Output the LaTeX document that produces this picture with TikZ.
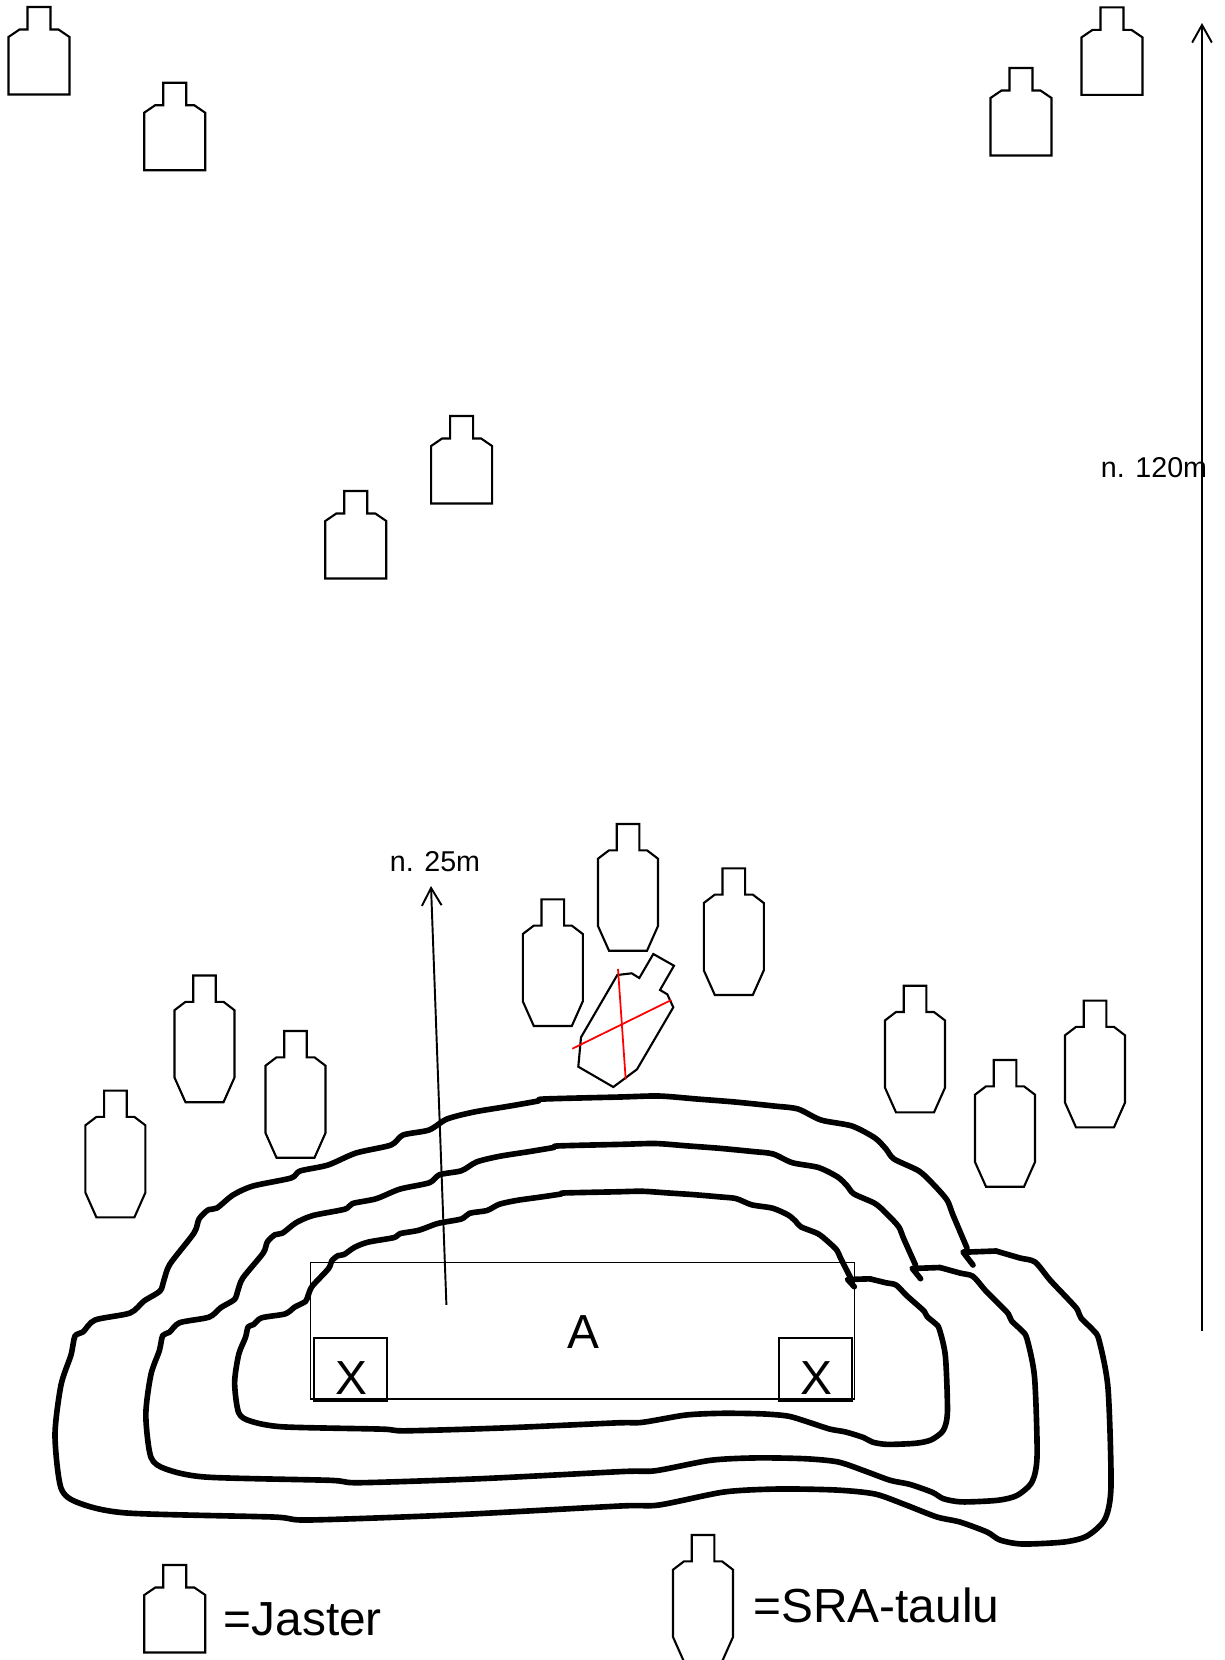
\documentclass[tikz,border=0pt]{standalone}
\usepackage{fontspec}
\setmainfont{Liberation Sans}
\usetikzlibrary{arrows.meta}
\definecolor{crossred}{RGB}{255, 0, 0}
\tikzset{
  target/.style={draw=black, line width=0.6pt, line join=miter},
  contour/.style={draw=black, line width=1.6pt, line join=round, line cap=round},
  rangearrow/.style={draw=black, line width=0.55pt, -{Straight Barb[length=5pt, width=5.6pt]}},
  bigtext/.style={font=\fontsize{13.6}{16}\selectfont, inner sep=0pt, anchor=base},
  smalltext/.style={font=\fontsize{8.15}{10}\selectfont, inner sep=0pt},
}
\newcommand{\jaster}[2]{
  \draw[target, shift={(#1,#2)}] (-11.5,0) -- (11.5,0) -- (11.5,22.5) -- (19.5,22.5) -- (30.5,30)
    -- (30.5,87.5) -- (-30.5,87.5) -- (-30.5,30) -- (-19.5,22.5) -- (-11.5,22.5) -- cycle;
}
\newcommand{\sra}[2]{
  \draw[target, shift={(#1,#2)}] (-11.3,0) -- (11.3,0) -- (11.3,26.3) -- (19,26.3) -- (30,34.7)
    -- (30,102) -- (19,126.7) -- (-19,126.7) -- (-30,102) -- (-30,34.7) -- (-19,26.3) -- (-11.3,26.3) -- cycle;
}
% one contour, the two inner ones are scaled copies
\newcommand{\rampline}{
  \draw[contour] plot[smooth, tension=0.45] coordinates {
    (967,1248) (953,1215) (947,1200) (933,1184) (919,1171) (894,1159) (886,1149) (875,1138)
    (852,1126) (821,1120) (798,1109) (774,1106) (735,1102) (697,1099) (659,1096) (620,1097)
    (544,1099) (538,1101) (510,1106) (474,1112) (447,1119) (429,1130) (403,1135) (391,1145)
    (356,1153) (328,1165) (300,1171) (291,1178) (253,1186) (233,1195) (217,1208) (208,1210)
    (199,1219) (194,1233) (170,1264) (164,1280) (160,1291) (144,1301) (130,1313) (95,1320)
    (83,1332) (75,1336) (71,1355) (61,1385) (55,1435) (61,1488) (79,1503) (127,1513)
    (273,1517) (308,1520) (451,1515) (620,1506) (659,1505) (724,1492) (778,1489) (836,1490)
    (875,1494) (906,1505) (937,1517) (960,1522) (987,1532) (1000,1540) (1022,1544) (1064,1542)
    (1087,1536) (1105,1519) (1111,1486) (1108,1388) (1099,1340) (1093,1330) (1081,1318)
    (1077,1309) (1068,1299) (1050,1280) (1035,1262) (1020,1258) (996,1251)
  };
  \draw[contour] (996,1251) -- (969,1252) -- (963,1252) -- (973,1265);
}

\begin{document}
\begin{tikzpicture}[x=0.01cm, y=-0.01cm]
  \useasboundingbox (0,0) rectangle (1225,1660);

  % ---------- far targets ----------
  \jaster{39}{7}
  \jaster{174.7}{82.7}
  \jaster{1021}{68}
  \jaster{1112}{7.4}
  \jaster{461.6}{416}
  \jaster{355.8}{491}

  % ---------- near targets ----------
  \sra{628}{824}
  \sra{552.8}{899.3}
  \sra{733.8}{868.3}
  \sra{204.5}{975.5}
  \sra{295.5}{1031}
  \sra{115.4}{1090.6}
  \sra{915}{985.7}
  \sra{1005}{1060}
  \sra{1095}{1000.6}

  % ---------- crossed out target ----------
  \draw[target] (653.3,954) -- (674,965.7) -- (660,990) -- (667.3,994.3) -- (673.3,1007.3)
    -- (637,1069.3) -- (613.3,1087) -- (578.3,1066.7) -- (581,1037.3) -- (617.3,975)
    -- (631.7,973.3) -- (639.3,978) -- cycle;
  \draw[crossred, line width=0.5pt] (618,969) -- (625.7,1079.3);
  \draw[crossred, line width=0.5pt] (572.3,1048.7) -- (671.3,1000);

  % ---------- contours ----------
  \rampline
  \begin{scope}[shift={(99.4,266.7)}, xscale=0.844, yscale=0.8]
    \rampline
  \end{scope}
  \begin{scope}[shift={(197.5,572)}, xscale=0.675, yscale=0.565]
    \rampline
  \end{scope}

  % ---------- firing area ----------
  \node[draw=black, line width=0.35pt, inner sep=0pt, minimum width=5.443cm, minimum height=1.362cm] (areabox) at (582.5,1330.9) {};
  \node[bigtext] (areatext) at (583,1348.8) {A};
  \node[draw=black, line width=0.55pt, inner sep=0pt, minimum width=0.723cm, minimum height=0.63cm] (leftbox) at (350.5,1369.5) {};
  \node[bigtext] (lefttext) at (351.2,1394.4) {X};
  \node[draw=black, line width=0.55pt, inner sep=0pt, minimum width=0.727cm, minimum height=0.63cm] (rightbox) at (815.3,1369.5) {};
  \node[bigtext] (righttext) at (816.3,1394.4) {X};

  % ---------- distances ----------
  \coordinate (nearfoot) at (446.4,1304.9);
  \coordinate (nearhead) at (431,886);
  \draw[rangearrow] (nearfoot) -- (nearhead);
  \node[smalltext] (neartext) at (435,862) {n. 25m};
  \coordinate (farfoot) at (1202,1331);
  \coordinate (farhead) at (1202,23);
  \draw[rangearrow] (farfoot) -- (farhead);
  \node[smalltext] (fartext) at (1154,468) {n. 120m};

  % ---------- legend ----------
  \jaster{174.8}{1565}
  \node[bigtext, anchor=base west] (jastertext) at (223,1635.6) {=Jaster};
  \sra{703}{1535}
  \node[bigtext, anchor=base west] (sratext) at (752.8,1622) {=SRA-taulu};
\end{tikzpicture}
\end{document}
